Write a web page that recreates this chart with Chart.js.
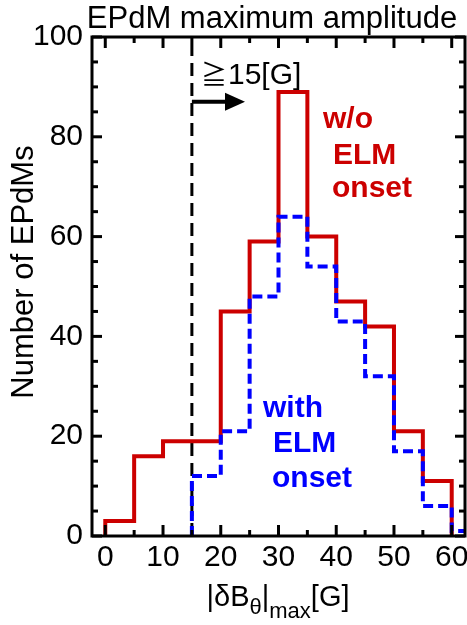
<!DOCTYPE html>
<html lang="en">
<head>
<meta charset="UTF-8">
<title>EPdM maximum amplitude</title>
<script src="https://cdn.jsdelivr.net/npm/chart.js"></script>
<style>
  html, body { margin: 0; padding: 0; background: #fff; }
  #histChart { display: block; }
</style>
</head>
<body>
<canvas id="histChart" width="467" height="625"></canvas>
<script>
  // histogram bins, 5 G wide
  const binEdges = [0, 5, 10, 15, 20, 25, 30, 35, 40, 45, 50, 55, 60, 65];
  const withoutOnset = [3, 16, 19, 19, 45, 59, 89, 60, 47, 42, 21, 11, 0];
  const withOnset = [0, 0, 0, 12, 21, 48, 64, 54, 43, 32, 17, 6, 1];
  const xTicks = [0, 10, 20, 30, 40, 50, 60];
  const yTicks = [0, 20, 40, 60, 80, 100];
  const threshold = 15;

  const FONT = '"Liberation Sans", Arial, sans-serif';

  // outline of a histogram: skip empty bins at both ends
  function stepPoints(counts) {
    const first = counts.findIndex(c => c > 0);
    let last = counts.length - 1;
    while (counts[last] === 0) last--;
    const pts = [{ x: binEdges[first], y: 0 }];
    for (let i = first; i <= last; i++) pts.push({ x: binEdges[i], y: counts[i] });
    pts.push({ x: binEdges[last + 1], y: 0 });
    return pts;
  }

  const decorPlugin = {
    id: 'decor',
    afterDatasetsDraw(chart) {
      const { ctx, chartArea: a, scales: { x, y } } = chart;
      ctx.save();
      ctx.strokeStyle = '#000';
      ctx.fillStyle = '#000';
      ctx.lineWidth = 3;
      ctx.lineCap = 'butt';

      // frame
      ctx.strokeRect(a.left, a.top, a.right - a.left, a.bottom - a.top);

      // inward ticks on all sides
      const seg = (x1, y1, x2, y2) => { ctx.beginPath(); ctx.moveTo(x1, y1); ctx.lineTo(x2, y2); ctx.stroke(); };
      for (let v = 0; v <= 60; v += 5) {
        const px = x.getPixelForValue(v);
        const len = v % 10 === 0 ? 11 : 6;
        seg(px, a.bottom, px, a.bottom - len);
        seg(px, a.top, px, a.top + len);
      }
      for (let v = 0; v <= 100; v += 5) {
        const py = y.getPixelForValue(v);
        const len = v % 20 === 0 ? 10 : 6;
        seg(a.left, py, a.left + len, py);
        seg(a.right, py, a.right - len, py);
      }

      // arrow from the threshold line
      const ay = y.getPixelForValue(87);
      const ax0 = x.getPixelForValue(threshold);
      const tip = x.getPixelForValue(24.2);
      ctx.lineWidth = 4;
      seg(ax0, ay, tip - 18, ay);
      ctx.beginPath();
      ctx.moveTo(tip, ay);
      ctx.lineTo(tip - 20, ay - 9);
      ctx.lineTo(tip - 20, ay + 9);
      ctx.closePath();
      ctx.fill();

      // threshold label
      ctx.textBaseline = 'alphabetic';
      ctx.textAlign = 'left';
      ctx.font = '26px "Noto Sans CJK JP", "DejaVu Sans"';
      ctx.fillText('\u2267', 201, 84);
      ctx.font = '30px ' + FONT;
      ctx.fillText('15[G]', 228, 84);

      // series labels
      ctx.font = 'bold 30px ' + FONT;
      ctx.fillStyle = '#cc0000';
      ctx.fillText('w/o', 323, 128);
      ctx.fillText('ELM', 333, 164);
      ctx.fillText('onset', 332, 197);
      ctx.fillStyle = '#0000ff';
      ctx.fillText('with', 263, 417);
      ctx.fillText('ELM', 273, 452);
      ctx.fillText('onset', 272, 487);

      // title
      ctx.fillStyle = '#000';
      ctx.textAlign = 'center';
      ctx.font = '31px ' + FONT;
      ctx.fillText('EPdM maximum amplitude', 272, 28);

      // y axis title
      ctx.save();
      ctx.translate(24, 272);
      ctx.rotate(-Math.PI / 2);
      ctx.textBaseline = 'middle';
      ctx.fillText('Number of EPdMs', 0, 0);
      ctx.restore();

      // x axis title with subscripts
      const parts = [
        ['|\u03b4B', 29, 0],
        ['\u03b8', 22, 8],
        ['|', 29, 0],
        ['max', 22, 12],
        ['[G]', 29, 0]
      ];
      ctx.textAlign = 'left';
      let total = 0;
      parts.forEach(p => { ctx.font = p[1] + 'px ' + FONT; total += ctx.measureText(p[0]).width; });
      let cx = 278 - total / 2;
      parts.forEach(p => {
        ctx.font = p[1] + 'px ' + FONT;
        ctx.fillText(p[0], cx, 606 + p[2]);
        cx += ctx.measureText(p[0]).width;
      });

      ctx.restore();
    }
  };

  new Chart(document.getElementById('histChart'), {
    type: 'scatter',
    data: {
      datasets: [
        {
          label: 'with ELM onset',
          data: stepPoints(withOnset),
          showLine: true,
          stepped: 'before',
          borderColor: '#0000ff',
          borderWidth: 4,
          borderDash: [10, 5],
          pointRadius: 0
        },
        {
          label: 'w/o ELM onset',
          data: stepPoints(withoutOnset),
          showLine: true,
          stepped: 'before',
          borderColor: '#cc0000',
          borderWidth: 4,
          pointRadius: 0
        },
        {
          label: 'threshold',
          data: [{ x: threshold, y: 0 }, { x: threshold, y: 100 }],
          showLine: true,
          borderColor: '#000',
          borderWidth: 3,
          borderDash: [13, 7],
          pointRadius: 0
        }
      ]
    },
    options: {
      responsive: false,
      animation: false,
      events: [],
      layout: { padding: { top: 37, right: 2, left: 0, bottom: 0 } },
      plugins: { legend: { display: false }, tooltip: { enabled: false } },
      scales: {
        x: {
          type: 'linear',
          min: -2.3,
          max: 62.3,
          grid: { display: false, drawTicks: false },
          border: { display: false },
          afterBuildTicks: s => { s.ticks = xTicks.map(v => ({ value: v })); },
          afterFit: s => { s.height = 89; s.paddingLeft = 0; s.paddingRight = 0; },
          ticks: { color: '#000', padding: 4, maxRotation: 0, autoSkip: false, font: { family: FONT, size: 30 } }
        },
        y: {
          min: 0,
          max: 100,
          grid: { display: false, drawTicks: false },
          border: { display: false },
          afterBuildTicks: s => { s.ticks = yTicks.map(v => ({ value: v })); },
          afterFit: s => { s.width = 92; s.paddingTop = 0; s.paddingBottom = 0; },
          ticks: { color: '#000', padding: 9, font: { family: FONT, size: 30 } }
        }
      }
    },
    plugins: [decorPlugin]
  });
</script>
</body>
</html>
